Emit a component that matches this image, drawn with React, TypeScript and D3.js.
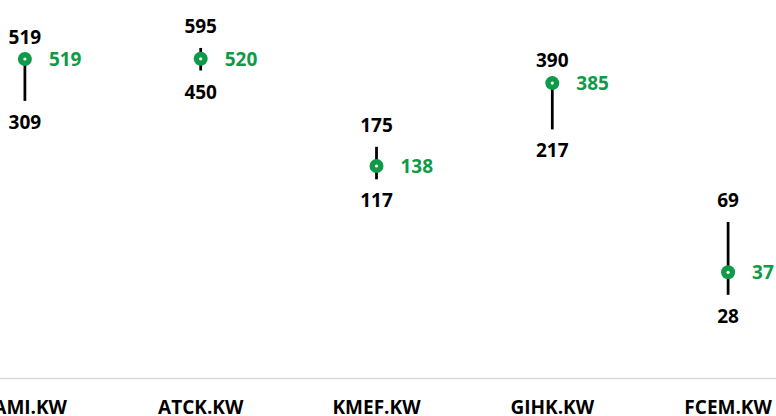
import React, { useEffect, useRef } from "react";
import * as d3 from "d3";

const categories = ["SAMI.KW", "ATCK.KW", "KMEF.KW", "GIHK.KW", "FCEM.KW"];
const highs = [519, 595, 175, 390, 69];
const lows = [309, 450, 117, 217, 28];
const closes = [519, 520, 138, 385, 37];

const GREEN = "#0e9a47";
const FONT = "'Open Sans', Lato, sans-serif";

const App = () => {
  const ref = useRef<SVGSVGElement | null>(null);

  useEffect(() => {
    const svg = d3.select(ref.current);
    svg.selectAll("*").remove();

    const x = d3.scaleBand().domain(categories).range([-63, 816]).padding(0);
    const y = d3.scaleLog().domain([10, 1000]).range([378, 6]);
    const cx = (c: string) => (x(c) as number) + x.bandwidth() / 2;

    // category axis
    const axis = svg
      .append("g")
      .attr("transform", `translate(0, 378)`)
      .call(d3.axisBottom(x).tickSize(0).tickPadding(0));
    axis.select(".domain").attr("stroke", "#d9d9d9").attr("stroke-width", 1.5);
    axis
      .selectAll("text")
      .attr("dy", null)
      .attr("y", 36)
      .attr("fill", "#000")
      .style("font-family", FONT)
      .style("font-weight", "bold")
      .style("font-size", "19px");

    const rows = categories.map((c, i) => ({
      c,
      high: highs[i],
      low: lows[i],
      close: closes[i],
    }));

    const item = svg.append("g").selectAll("g.item").data(rows).enter().append("g");

    item
      .append("line")
      .attr("x1", (d) => cx(d.c))
      .attr("x2", (d) => cx(d.c))
      .attr("y1", (d) => y(d.high))
      .attr("y2", (d) => y(d.low))
      .attr("stroke", "#000")
      .attr("stroke-width", 2.75);

    item
      .append("circle")
      .attr("cx", (d) => cx(d.c))
      .attr("cy", (d) => y(d.close))
      .attr("r", 7)
      .attr("fill", GREEN);

    item
      .append("circle")
      .attr("cx", (d) => cx(d.c))
      .attr("cy", (d) => y(d.close))
      .attr("r", 1.6)
      .attr("fill", "#fff");

    const label = (sel: any) =>
      sel
        .style("font-family", FONT)
        .style("font-weight", "bold")
        .style("font-size", "19px");

    item
      .append("text")
      .attr("x", (d) => cx(d.c))
      .attr("y", (d) => y(d.high) - 15)
      .attr("text-anchor", "middle")
      .attr("fill", "#000")
      .call(label)
      .text((d) => d.high);

    item
      .append("text")
      .attr("x", (d) => cx(d.c))
      .attr("y", (d) => y(d.low) + 28)
      .attr("text-anchor", "middle")
      .attr("fill", "#000")
      .call(label)
      .text((d) => d.low);

    item
      .append("text")
      .attr("x", (d) => cx(d.c) + 24)
      .attr("y", (d) => y(d.close) + 7)
      .attr("fill", GREEN)
      .call(label)
      .text((d) => d.close);
  }, []);

  return (
    <svg
      ref={ref}
      width={776}
      height={416}
      style={{ position: "absolute", left: 0, top: 0, background: "#fff" }}
    />
  );
};

export default App;
